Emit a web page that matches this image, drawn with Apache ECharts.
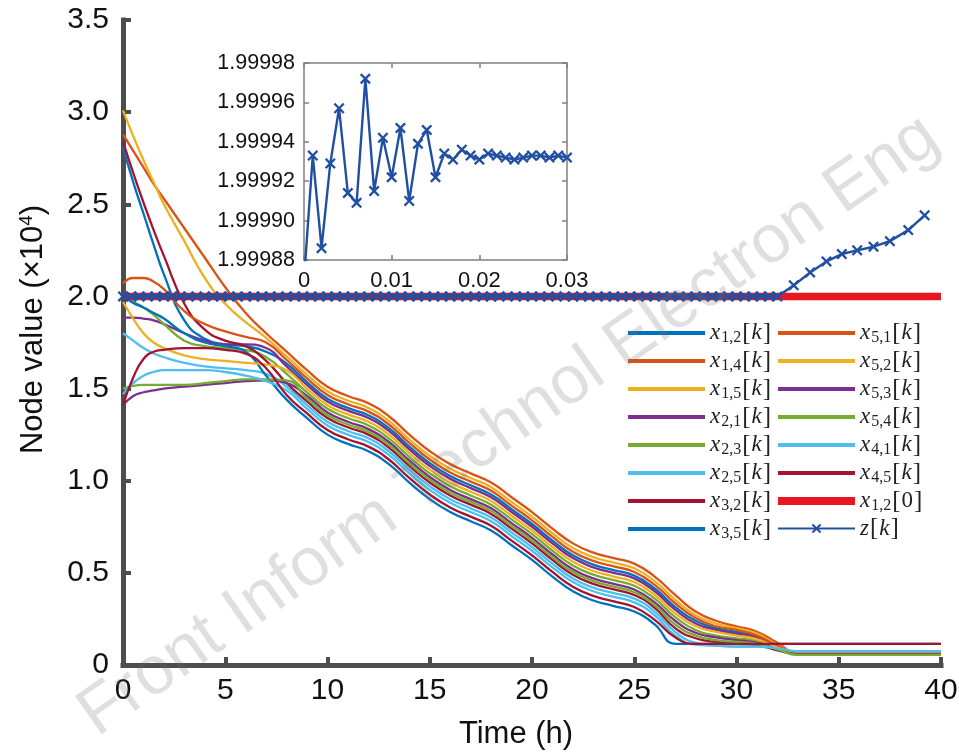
<!DOCTYPE html>
<html><head><meta charset="utf-8">
<script src="https://cdn.jsdelivr.net/npm/echarts@6/dist/echarts.min.js"></script>
<style>html,body{margin:0;padding:0;background:#fff}#c{width:959px;height:754px}</style>
</head><body><div id="c"></div><script>
// ---- data ----
const timeH = [0,0.5,1,1.5,2,3,4,5,6,7,8,9,10,11,12,13,14,15,16,17,18,19,20,21,22,23,24,25,26,27,28,29,30,31,32,33,34,36,40];

const x12 = [2.81,2.62,2.45,2.28,2.12,1.87,1.77,1.74,1.73,1.70,1.635,1.535,1.445,1.395,1.355,1.285,1.185,1.095,1.025,0.975,0.925,0.845,0.765,0.675,0.595,0.545,0.515,0.485,0.415,0.315,0.24,0.20,0.18,0.155,0.10,0.065,0.065,0.065,0.065];
const x14 = [2.88,2.79,2.70,2.61,2.53,2.37,2.21,2.05,1.91,1.80,1.70,1.60,1.51,1.46,1.42,1.35,1.25,1.16,1.09,1.04,0.99,0.91,0.83,0.74,0.66,0.61,0.58,0.55,0.48,0.38,0.29,0.24,0.21,0.18,0.12,0.065,0.065,0.065,0.065];
const x15 = [3.01,2.87,2.74,2.62,2.50,2.30,2.10,1.96,1.86,1.775,1.675,1.575,1.485,1.435,1.395,1.325,1.225,1.135,1.065,1.015,0.965,0.885,0.805,0.715,0.635,0.585,0.555,0.525,0.455,0.355,0.27,0.225,0.20,0.17,0.11,0.065,0.065,0.065,0.065];
const x21 = [1.885,1.885,1.88,1.87,1.85,1.80,1.76,1.74,1.74,1.72,1.62,1.52,1.43,1.38,1.34,1.27,1.17,1.08,1.01,0.96,0.91,0.83,0.75,0.66,0.58,0.53,0.50,0.47,0.40,0.30,0.225,0.19,0.17,0.15,0.10,0.06,0.06,0.06,0.06];
const x23 = [2.0,1.97,1.94,1.90,1.85,1.76,1.73,1.72,1.71,1.67,1.58,1.48,1.39,1.34,1.30,1.23,1.13,1.04,0.97,0.92,0.87,0.79,0.71,0.62,0.54,0.49,0.46,0.43,0.36,0.26,0.19,0.16,0.145,0.13,0.09,0.055,0.055,0.055,0.055];
const x25 = [1.80,1.76,1.72,1.69,1.67,1.64,1.62,1.61,1.60,1.58,1.51,1.41,1.32,1.27,1.23,1.16,1.06,0.97,0.90,0.85,0.80,0.72,0.64,0.55,0.47,0.42,0.39,0.36,0.29,0.18,0.12,0.105,0.10,0.10,0.085,0.075,0.075,0.075,0.075];
const x32 = [2.84,2.67,2.51,2.36,2.22,1.96,1.82,1.76,1.73,1.65,1.53,1.43,1.34,1.29,1.25,1.18,1.08,0.99,0.92,0.87,0.82,0.74,0.66,0.57,0.49,0.44,0.41,0.38,0.31,0.20,0.145,0.125,0.115,0.11,0.08,0.06,0.06,0.06,0.06];
const x35 = [2.0,1.965,1.94,1.91,1.88,1.80,1.75,1.73,1.70,1.57,1.44,1.34,1.25,1.20,1.16,1.09,0.99,0.90,0.83,0.78,0.73,0.65,0.57,0.48,0.40,0.35,0.32,0.29,0.22,0.115,0.115,0.115,0.115,0.115,0.115,0.115,0.115,0.115,0.115];
const x51 = [2.07,2.10,2.10,2.08,2.04,1.92,1.85,1.81,1.78,1.75,1.655,1.555,1.465,1.415,1.375,1.305,1.205,1.115,1.045,0.995,0.945,0.865,0.785,0.695,0.615,0.565,0.535,0.505,0.435,0.335,0.255,0.21,0.19,0.16,0.105,0.065,0.065,0.065,0.065];
const x52 = [1.97,1.88,1.80,1.75,1.72,1.68,1.66,1.65,1.64,1.63,1.60,1.50,1.41,1.36,1.32,1.25,1.15,1.06,0.99,0.94,0.89,0.81,0.73,0.64,0.56,0.51,0.48,0.45,0.38,0.28,0.21,0.18,0.16,0.14,0.095,0.065,0.065,0.065,0.065];
const x53 = [1.41,1.46,1.48,1.49,1.50,1.51,1.52,1.53,1.54,1.545,1.53,1.46,1.37,1.32,1.28,1.21,1.11,1.02,0.95,0.90,0.85,0.77,0.69,0.60,0.52,0.47,0.44,0.41,0.34,0.24,0.175,0.15,0.135,0.12,0.085,0.06,0.06,0.06,0.06];
const x54 = [1.50,1.515,1.52,1.52,1.52,1.52,1.53,1.54,1.55,1.55,1.545,1.445,1.355,1.305,1.265,1.195,1.095,1.005,0.935,0.885,0.835,0.755,0.675,0.585,0.505,0.455,0.425,0.395,0.325,0.22,0.16,0.135,0.125,0.115,0.085,0.055,0.055,0.055,0.055];
const x41 = [1.47,1.53,1.57,1.59,1.60,1.60,1.60,1.59,1.57,1.54,1.49,1.39,1.30,1.25,1.21,1.14,1.04,0.95,0.88,0.83,0.78,0.70,0.62,0.53,0.45,0.40,0.37,0.34,0.27,0.16,0.11,0.105,0.10,0.10,0.09,0.075,0.075,0.075,0.075];
const x45 = [1.41,1.56,1.66,1.70,1.71,1.72,1.72,1.71,1.69,1.61,1.465,1.365,1.275,1.225,1.185,1.115,1.015,0.925,0.855,0.805,0.755,0.675,0.595,0.505,0.425,0.375,0.345,0.315,0.245,0.15,0.115,0.115,0.115,0.115,0.115,0.115,0.115,0.115,0.115];

const initT = [0, 40];
const initV = [2.0, 2.0];

const zT = [0,0.4,0.8,1.2,1.6,2,2.4,2.8,3.2,3.6,
  4,4.4,4.8,5.2,5.6,6,6.4,6.8,7.2,7.6,
  8,8.4,8.8,9.2,9.6,10,10.4,10.8,11.2,11.6,
  12,12.4,12.8,13.2,13.6,14,14.4,14.8,15.2,15.6,
  16,16.4,16.8,17.2,17.6,18,18.4,18.8,19.2,19.6,
  20,20.4,20.8,21.2,21.6,22,22.4,22.8,23.2,23.6,
  24,24.4,24.8,25.2,25.6,26,26.4,26.8,27.2,27.6,
  28,28.4,28.8,29.2,29.6,30,30.4,30.8,31.2,31.6,
  32,32.8,33.6,34.4,35.15,35.9,36.7,37.5,38.4,39.2];
const zV = [2,2,2,2,2,2,2,2,2,2,
  2,2,2,2,2,2,2,2,2,2,
  2,2,2,2,2,2,2,2,2,2,
  2,2,2,2,2,2,2,2,2,2,
  2,2,2,2,2,2,2,2,2,2,
  2,2,2,2,2,2,2,2,2,2,
  2,2,2,2,2,2,2,2,2,2,
  2,2,2,2,2,2,2,2,2,2,
  2,2.06,2.13,2.19,2.23,2.25,2.27,2.30,2.36,2.44];

const insetT = [0,0.001,0.002,0.003,0.004,0.005,0.006,0.007,0.008,0.009,0.010,0.011,0.012,0.013,0.014,0.015,0.016,0.017,0.018,0.019,0.020,0.021,0.022,0.023,0.024,0.025,0.026,0.027,0.028,0.029,0.030];
const insetZ = [1.99987,1.999933,1.999886,1.999929,1.999957,1.999914,1.999909,1.999972,1.999915,1.999942,1.999922,1.999947,1.999910,1.999939,1.999946,1.999922,1.999934,1.999931,1.999936,1.999933,1.999931,1.999934,1.999933,1.999932,1.999931,1.999932,1.999933,1.999933,1.999932,1.999933,1.999932];

const curveNames = ['x_{1,2}[k]','x_{1,4}[k]','x_{1,5}[k]','x_{2,1}[k]','x_{2,3}[k]','x_{2,5}[k]','x_{3,2}[k]','x_{3,5}[k]','x_{5,1}[k]','x_{5,2}[k]','x_{5,3}[k]','x_{5,4}[k]','x_{4,1}[k]','x_{4,5}[k]'];
const curveValues = [x12,x14,x15,x21,x23,x25,x32,x35,x51,x52,x53,x54,x41,x45];
const curveColors = ['#0072BD','#D95319','#EDB120','#7E2F8E','#77AC30','#4DBEEE','#A2142F','#0072BD','#D95319','#EDB120','#7E2F8E','#77AC30','#4DBEEE','#A2142F'];
const yTicks = [0,0.5,1,1.5,2,2.5,3,3.5];
const xTicks = [0,5,10,15,20,25,30,35,40];

// ---- chart ----
const AX = '#4d4d4d';
const SANS = 'Liberation Sans, Arial, sans-serif';
const SERIF = 'Liberation Serif, Times New Roman, serif';
const XSYM = 'path://M0,1.5L1.5,0L5,3.5L8.5,0L10,1.5L6.5,5L10,8.5L8.5,10L5,6.5L1.5,10L0,8.5L3.5,5Z';
const THIN = 'path://M0,0H77V4H0Z';
const THICK = 'path://M0,0H77V8H0Z';
const ZCOL = '#2150A3';
const RED = '#E8161E';

function texLabel(name){
  const m = /^([a-z])(?:_\{([^}]*)\})?\[([^\]]*)\]$/.exec(name);
  if (!m) return name;
  let s = '{v|' + m[1] + '}';
  if (m[2]) s += '{s|' + m[2] + '}';
  s += '{b|[}' + (/^[a-z]$/.test(m[3]) ? '{v|' + m[3] + '}' : '{n|' + m[3] + '}') + '{b|]}';
  return s;
}
const legendRich = {
  v: {fontFamily: SERIF, fontStyle: 'italic', fontSize: 23, lineHeight: 16, color: '#222'},
  s: {fontFamily: SERIF, fontSize: 16, lineHeight: 16, padding: [10,0,0,1], color: '#222'},
  b: {fontFamily: SERIF, fontSize: 25, lineHeight: 16, padding: [0,1,0,1], color: '#222'},
  n: {fontFamily: SERIF, fontSize: 23, lineHeight: 16, color: '#222'}
};
function legendCfg(left, data){
  return {
    data: data, left: left, top: 320, orient: 'vertical', padding: 0,
    itemWidth: 77, itemHeight: 12, itemGap: 2,
    itemStyle: {borderWidth: 0},
    formatter: texLabel,
    textStyle: {color: '#222', rich: legendRich},
    selectedMode: false
  };
}

const series = [];
curveNames.forEach((n, i) => {
  series.push({
    type: 'line', name: n, xAxisIndex: 0, yAxisIndex: 0,
    data: timeH.map((t, j) => [t, curveValues[i][j]]),
    smooth: 0.5, symbol: 'none',
    lineStyle: {width: 2.3, color: curveColors[i]},
    itemStyle: {color: curveColors[i]},
    emphasis: {disabled: true}
  });
});
series.push({
  type: 'line', name: 'x_{1,2}[0]', xAxisIndex: 0, yAxisIndex: 0,
  data: initT.map((t, j) => [t, initV[j]]),
  symbol: 'none', lineStyle: {width: 7.5, color: RED}, itemStyle: {color: RED},
  emphasis: {disabled: true}
});
series.push({
  type: 'line', name: 'z[k]', xAxisIndex: 0, yAxisIndex: 0,
  data: zT.map((t, j) => [t, zV[j]]),
  symbol: XSYM, symbolSize: 11,
  lineStyle: {width: 2.5, color: ZCOL}, itemStyle: {color: ZCOL},
  emphasis: {disabled: true}
});
series.push({
  type: 'line', name: 'z-inset', xAxisIndex: 1, yAxisIndex: 1,
  data: insetT.map((t, j) => [t, insetZ[j]]),
  symbol: XSYM, symbolSize: 11, clip: true,
  lineStyle: {width: 2.4, color: ZCOL}, itemStyle: {color: ZCOL},
  emphasis: {disabled: true}
});

const option = {
  animation: false,
  backgroundColor: '#fff',
  grid: [
    {left: 123, right: 18, top: 20, bottom: 89, outerBoundsMode: 'none'},
    {left: 304, top: 63, width: 263, height: 197, show: true, borderColor: '#808080', borderWidth: 1.5, backgroundColor: '#fff', outerBoundsMode: 'none'}
  ],
  xAxis: [
    {gridIndex: 0, type: 'value', min: xTicks[0], max: xTicks[xTicks.length-1], interval: xTicks[1]-xTicks[0],
     name: 'Time (h)', nameLocation: 'middle', nameGap: 54,
     nameTextStyle: {fontSize: 31, fontFamily: SANS, color: '#111', padding: [0,32,0,0]},
     axisLine: {show: true, onZero: false, lineStyle: {color: AX, width: 5, cap: 'square'}},
     axisTick: {show: true, inside: true, length: 8, lineStyle: {color: AX, width: 4}},
     axisLabel: {fontSize: 30, fontFamily: SANS, color: '#111', margin: 11},
     splitLine: {show: false}},
    {gridIndex: 1, type: 'value', min: 0, max: 0.03, interval: 0.01,
     axisLine: {show: false, onZero: false},
     axisTick: {show: true, inside: true, length: 5, lineStyle: {color: '#808080', width: 1.5}},
     axisLabel: {fontSize: 22, fontFamily: SANS, color: '#111', margin: 10, formatter: v => v === 0 ? '0' : v.toFixed(2)},
     splitLine: {show: false}},
    {gridIndex: 1, type: 'value', position: 'top', min: 0, max: 0.03, interval: 0.01,
     axisLine: {show: false, onZero: false},
     axisTick: {show: true, inside: true, length: 5, lineStyle: {color: '#808080', width: 1.5}},
     axisLabel: {show: false}, splitLine: {show: false}}
  ],
  yAxis: [
    {gridIndex: 0, type: 'value', min: yTicks[0], max: yTicks[yTicks.length-1], interval: yTicks[1]-yTicks[0],
     name: '{a|Node value (×10}{p|4}{a|)}', nameLocation: 'middle', nameGap: 74,
     nameTextStyle: {fontSize: 31, fontFamily: SANS, color: '#111', padding: [0,0,0,26],
       rich: {a: {fontSize: 31, fontFamily: SANS, color: '#111'}, p: {fontSize: 19, fontFamily: SANS, color: '#111', padding: [0,0,13,0]}}},
     axisLine: {show: true, onZero: false, lineStyle: {color: AX, width: 5, cap: 'square'}},
     axisTick: {show: true, inside: true, length: 8, lineStyle: {color: AX, width: 4}},
     axisLabel: {fontSize: 30, fontFamily: SANS, color: '#111', margin: 14, formatter: v => v === 0 ? '0' : v.toFixed(1)},
     splitLine: {show: false}},
    {gridIndex: 1, type: 'value', min: 1.99988, max: 1.99998, interval: 0.00002,
     axisLine: {show: false, onZero: false},
     axisTick: {show: true, inside: true, length: 5, lineStyle: {color: '#808080', width: 1.5}},
     axisLabel: {fontSize: 21.5, fontFamily: SANS, color: '#111', margin: 9, formatter: v => v.toFixed(5)},
     splitLine: {show: false}},
    {gridIndex: 1, type: 'value', position: 'right', min: 1.99988, max: 1.99998, interval: 0.00002,
     axisLine: {show: false, onZero: false},
     axisTick: {show: true, inside: true, length: 5, lineStyle: {color: '#808080', width: 1.5}},
     axisLabel: {show: false}, splitLine: {show: false}}
  ],
  legend: [
    legendCfg(628, curveNames.slice(0, 8).map(n => ({name: n, icon: THIN}))),
    legendCfg(777, curveNames.slice(8).map(n => ({name: n, icon: THIN})).concat([{name: 'x_{1,2}[0]', icon: THICK}, {name: 'z[k]'}]))
  ],
  graphic: [{
    type: 'text', x: 106, y: 750, rotation: 35 * Math.PI / 180, silent: true, z: 100,
    style: {text: 'Front Inform Technol Electron Eng', fontSize: 68, fontFamily: SANS, fill: 'rgba(110,110,110,0.22)', verticalAlign: 'bottom'}
  }],
  series: series
};
const chart = echarts.init(document.getElementById('c'), null, {renderer: 'canvas'});
chart.setOption(option);
</script></body></html>
